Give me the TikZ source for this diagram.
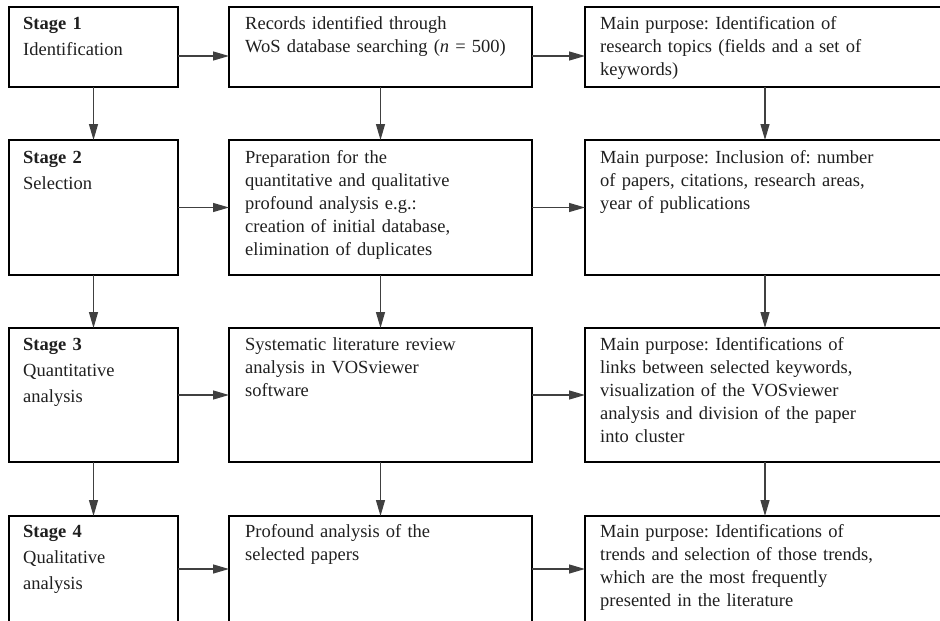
\documentclass[tikz,border=0pt]{standalone}
\usepackage{fontspec}
\setmainfont{Liberation Serif}
\usetikzlibrary{arrows.meta}
\begin{document}
\begin{tikzpicture}[x=1pt,y=-1pt,
  box/.style={draw=black, line width=2.7pt, rectangle, anchor=north west, inner sep=0pt, outer sep=0pt},
  c1/.style={box, minimum width=169pt},
  c2/.style={box, minimum width=303pt},
  c3/.style={box, minimum width=360pt},
  txt/.style={anchor=north west, inner sep=0pt, align=left, text=black!88, font=\fontsize{18.5pt}{23pt}\selectfont\frenchspacing},
  txt1/.style={txt, text width=150pt, font=\fontsize{18.5pt}{26pt}\selectfont\frenchspacing},
  txt2/.style={txt, text width=285pt},
  txt3/.style={txt, text width=345pt},
  arr/.style={draw=black!75, line width=1.3pt, -{Triangle[length=16pt,width=9pt]}}]
\path[use as bounding box] (0,0) rectangle (940,621);
\clip (0,0) rectangle (940,621);

% boxes
\node[c1, minimum height=80pt]  (s1) at (9,7) {};
\node[c2, minimum height=80pt]  (r1) at (229,7) {};
\node[c3, minimum height=80pt]  (p1) at (585,7) {};
\node[c1, minimum height=135pt] (s2) at (9,140) {};
\node[c2, minimum height=135pt] (r2) at (229,140) {};
\node[c3, minimum height=135pt] (p2) at (585,140) {};
\node[c1, minimum height=134pt] (s3) at (9,328) {};
\node[c2, minimum height=134pt] (r3) at (229,328) {};
\node[c3, minimum height=134pt] (p3) at (585,328) {};
\node[c1, minimum height=106pt] (s4) at (9,516) {};
\node[c2, minimum height=106pt] (r4) at (229,516) {};
\node[c3, minimum height=106pt] (p4) at (585,516) {};

% texts
\node[txt1] (ts1) at (23,15) {\rule{0pt}{14pt}\textbf{Stage 1}\\Identification};
\node[txt2] (tr1) at (245,15) {\rule{0pt}{14pt}Records identified through\\WoS database searching (\textit{n} = 500)};
\node[txt3] (tp1) at (600,15) {\rule{0pt}{14pt}Main purpose: Identification of\\research topics (fields and a set of\\keywords)};

\node[txt1] (ts2) at (23,149) {\rule{0pt}{14pt}\textbf{Stage 2}\\Selection};
\node[txt2] (tr2) at (245,149) {\rule{0pt}{14pt}Preparation for the\\quantitative and qualitative\\profound analysis e.g.:\\creation of initial database,\\elimination of duplicates};
\node[txt3] (tp2) at (600,149) {\rule{0pt}{14pt}Main purpose: Inclusion of: number\\of papers, citations, research areas,\\year of publications};

\node[txt1] (ts3) at (23,336) {\rule{0pt}{14pt}\textbf{Stage 3}\\Quantitative\\analysis};
\node[txt2] (tr3) at (245,336) {\rule{0pt}{14pt}Systematic literature review\\analysis in VOSviewer\\software};
\node[txt3] (tp3) at (600,336) {\rule{0pt}{14pt}Main purpose: Identifications of\\links between selected keywords,\\visualization of the VOSviewer\\analysis and division of the paper\\into cluster};

\node[txt1] (ts4) at (23,523) {\rule{0pt}{14pt}\textbf{Stage 4}\\Qualitative\\analysis};
\node[txt2] (tr4) at (245,523) {\rule{0pt}{14pt}Profound analysis of the\\selected papers};
\node[txt3] (tp4) at (600,523) {\rule{0pt}{14pt}Main purpose: Identifications of\\trends and selection of those trends,\\which are the most frequently\\presented in the literature};

% horizontal arrows
\draw[arr] ([yshift=-9pt]s1.east) -- ([yshift=-9pt]r1.west);
\draw[arr] ([yshift=-9pt]r1.east) -- ([yshift=-9pt]p1.west);
\foreach \i in {2,3,4}{
  \draw[arr] (s\i.east) -- (r\i.west);
  \draw[arr] (r\i.east) -- (p\i.west);
}
% vertical arrows
\foreach \i/\j in {1/2,2/3,3/4}{
  \draw[arr] (s\i.south) -- (s\j.north);
  \draw[arr] (r\i.south) -- (r\j.north);
  \draw[arr] (p\i.south) -- (p\j.north);
}
\end{tikzpicture}
\end{document}
